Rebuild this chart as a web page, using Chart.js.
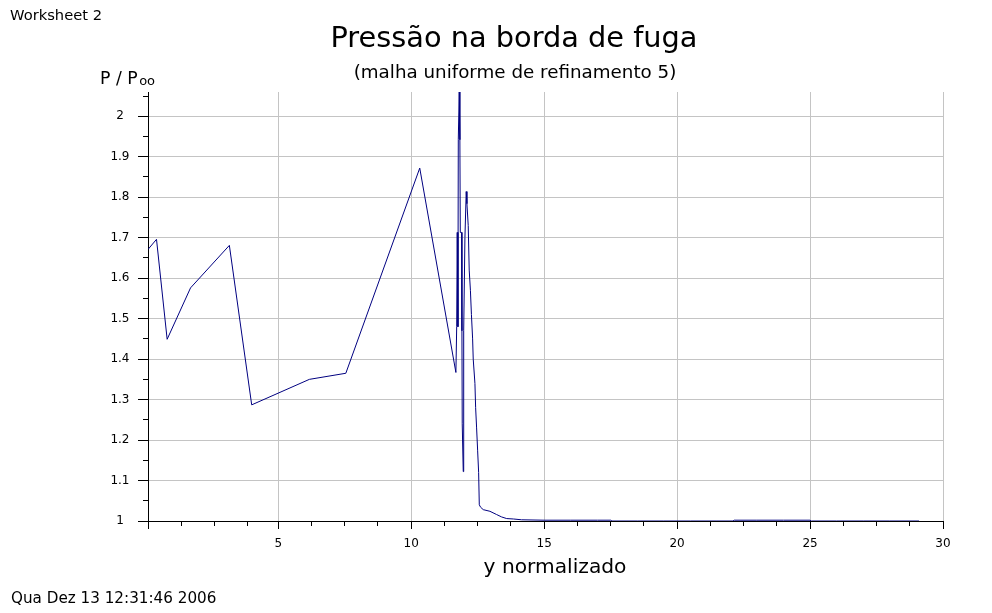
<!DOCTYPE html>
<html><head><meta charset="utf-8">
<script src="https://cdn.jsdelivr.net/npm/chart.js@4.4.0/dist/chart.umd.min.js"></script>
<style>html,body{margin:0;padding:0;background:#fff;}canvas{display:block;}</style>
</head><body>
<canvas id="c" width="992" height="613"></canvas>
<script>
// ---- data ----
const yNorm = [
  0.10, 0.42, 0.82, 1.70, 3.16, 4.00, 6.17, 7.54, 10.32, 11.68,
  11.71, 11.73, 11.756, 11.77, 11.805, 11.83, 11.845, 11.895, 11.907, 11.918,
  11.956, 11.965, 11.982, 12.02, 12.068, 12.095, 12.144, 12.181, 12.226, 12.264,
  12.309, 12.332, 12.396, 12.422, 12.459, 12.497, 12.535, 12.56, 12.61, 12.71,
  12.96, 13.21, 13.40, 13.59, 13.84, 14.15, 15.0, 16.0, 17.0, 17.5,
  17.55, 18.5, 19.5, 20.5, 21.5, 22.1, 22.15, 23.0, 24.0, 25.0,
  25.05, 26.0, 27.0, 28.0, 29.1
];
const pRatio = [
  1.671, 1.696, 1.449, 1.576, 1.681, 1.287, 1.350, 1.365, 1.872, 1.367,
  1.480, 1.713, 1.480, 1.942, 2.060, 1.942, 1.713, 1.713, 1.470, 1.240,
  1.122, 1.240, 1.470, 1.700, 1.814, 1.784, 1.730, 1.620, 1.570, 1.510,
  1.450, 1.400, 1.340, 1.280, 1.230, 1.175, 1.120, 1.040, 1.034, 1.028,
  1.024, 1.016, 1.010, 1.006, 1.005, 1.003, 1.002, 1.002, 1.002, 1.002,
  1.000, 1.000, 1.000, 1.000, 1.000, 1.000, 1.002, 1.002, 1.002, 1.002,
  1.000, 1.000, 1.000, 1.000, 1.000
];
const xMajorTicks = [0.1, 5, 10, 15, 20, 25, 30];
const xTickLabels = ['', '5', '10', '15', '20', '25', '30'];
const xMinorTicks = [1.35, 2.6, 3.85, 6.25, 7.5, 8.75, 11.25, 12.5, 13.75, 16.25, 17.5, 18.75, 21.25, 22.5, 23.75, 26.25, 27.5, 28.75];
const yMajorTicks = [1, 1.1, 1.2, 1.3, 1.4, 1.5, 1.6, 1.7, 1.8, 1.9, 2];
const yTickLabels = ['1', '1.1', '1.2', '1.3', '1.4', '1.5', '1.6', '1.7', '1.8', '1.9', '2'];
const yMinorTicks = [1.05, 1.15, 1.25, 1.35, 1.45, 1.55, 1.65, 1.75, 1.85, 1.95, 2.05];

const titleText = 'Pressão na borda de fuga';
const subtitleText = '(malha uniforme de refinamento 5)';
const xTitle = 'y normalizado';
const yTitleMain = 'P / P';
const yTitleSub = 'oo';
const cornerText = 'Worksheet 2';
const dateText = 'Qua Dez 13 12:31:46 2006';

// ---- helpers ----
const FONT = "'DejaVu Sans', sans-serif";
function idxIn(list, v) { return list.findIndex(t => Math.abs(t - v) < 1e-6); }
function buildTicks(major, minor) {
  return major.concat(minor).sort((a, b) => a - b).map(v => ({ value: v }));
}

const textPlugin = {
  id: 'texts',
  afterDraw(chart) {
    const ctx = chart.ctx;
    ctx.save();
    ctx.fillStyle = '#000';
    ctx.textBaseline = 'alphabetic';
    ctx.textAlign = 'left';
    ctx.font = '14.7px ' + FONT;
    ctx.fillText(cornerText, 10, 20);
    ctx.font = '15.2px ' + FONT;
    ctx.fillText(dateText, 11, 603);
    ctx.textAlign = 'center';
    ctx.font = '28.8px ' + FONT;
    ctx.fillText(titleText, 514, 47);
    ctx.font = '18.3px ' + FONT;
    ctx.fillText(subtitleText, 515, 78);
    ctx.font = '20.2px ' + FONT;
    ctx.fillText(xTitle, 555, 573);
    ctx.textAlign = 'left';
    ctx.font = '17.3px ' + FONT;
    ctx.fillText(yTitleMain, 100, 83.5);
    const w = ctx.measureText(yTitleMain).width;
    ctx.font = '13px ' + FONT;
    ctx.fillText(yTitleSub, 100 + w + 1.5, 84.5);
    ctx.restore();
  }
};

const points = yNorm.map((x, i) => ({ x: x, y: pRatio[i] }));

new Chart(document.getElementById('c'), {
  type: 'scatter',
  data: {
    datasets: [{
      data: points,
      showLine: true,
      borderColor: '#000080',
      backgroundColor: '#000080',
      borderWidth: 1,
      pointRadius: 0,
      tension: 0
    }]
  },
  options: {
    responsive: false,
    animation: false,
    events: [],
    layout: { padding: { left: 108, right: 49, top: 92, bottom: 52 } },
    plugins: { legend: { display: false }, tooltip: { enabled: false }, title: { display: false } },
    scales: {
      x: {
        type: 'linear',
        min: 0.1,
        max: 30,
        afterBuildTicks(scale) { scale.ticks = buildTicks(xMajorTicks, xMinorTicks); },
        afterFit(scale) { scale.height = 40; },
        ticks: {
          autoSkip: false,
          maxRotation: 0,
          padding: 8,
          color: '#000',
          font: { family: FONT, size: 12 },
          callback(v) { const i = idxIn(xMajorTicks, v); return i >= 0 ? xTickLabels[i] : ''; }
        },
        grid: {
          color(ctx) { const i = idxIn(xMajorTicks, ctx.tick.value); return (i > 0) ? '#c4c4c4' : 'rgba(0,0,0,0)'; },
          lineWidth: 1,
          tickColor: '#000',
          tickLength: 8,
          tickWidth: 1,
          tickBorderDash(ctx) { return idxIn(xMajorTicks, ctx.tick.value) >= 0 ? [] : [4, 40]; }
        },
        border: { display: true, color: '#000', width: 1 }
      },
      y: {
        type: 'linear',
        min: 1,
        max: 2.06,
        afterBuildTicks(scale) { scale.ticks = buildTicks(yMajorTicks, yMinorTicks); },
        afterFit(scale) { scale.width = 40; },
        ticks: {
          autoSkip: false,
          padding: 8.5,
          crossAlign: 'center',
          color: '#000',
          font: { family: FONT, size: 12 },
          callback(v) { const i = idxIn(yMajorTicks, v); return i >= 0 ? yTickLabels[i] : ''; }
        },
        grid: {
          color(ctx) { const i = idxIn(yMajorTicks, ctx.tick.value); return (i > 0) ? '#c4c4c4' : 'rgba(0,0,0,0)'; },
          lineWidth: 1,
          tickColor: '#000',
          tickLength: 10,
          tickWidth: 1,
          tickBorderDash(ctx) { return idxIn(yMajorTicks, ctx.tick.value) >= 0 ? [] : [0, 5, 5, 20]; }
        },
        border: { display: true, color: '#000', width: 1 }
      }
    }
  },
  plugins: [textPlugin]
});
</script>
</body></html>
